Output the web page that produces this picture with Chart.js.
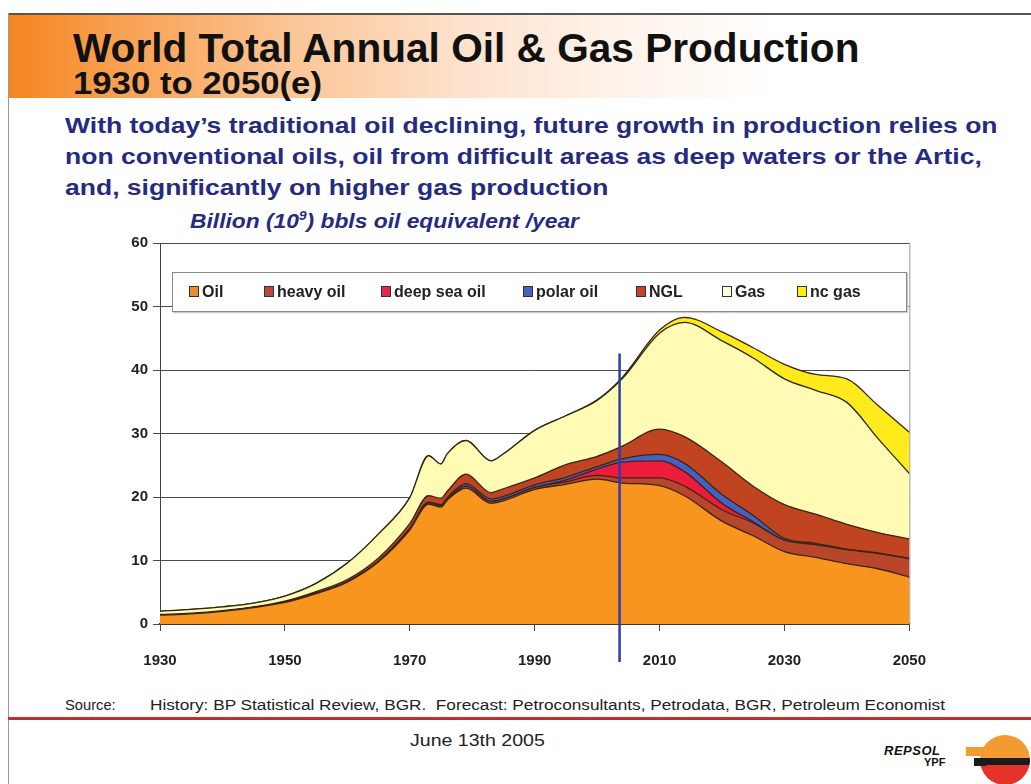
<!DOCTYPE html>
<html>
<head>
<meta charset="utf-8">
<script src="https://cdn.jsdelivr.net/npm/chart.js@4.4.0/dist/chart.umd.min.js"></script>
<style>
  body { margin: 0; width: 1031px; height: 784px; overflow: hidden; background: #fff; position: relative;
         font-family: 'Liberation Sans', Arial, sans-serif; }
  .abs { position: absolute; white-space: nowrap; }
  .wide { transform-origin: 0 0; }
  #frameTop { left: 8px; top: 13px; width: 1023px; height: 2px; background: #555; }
  #frameLeft { left: 8px; top: 13px; width: 1px; height: 771px; background: #999; }
  #band { left: 9px; top: 15px; width: 1022px; height: 83px;
          background: linear-gradient(to right, #f5841f 0%, #f89a45 8%, #fbc697 28%, #fde3cf 45%, #fff3ea 60%, #ffffff 75%); }
  #title { left: 73px; top: 26px; font-size: 40px; font-weight: bold; color: #111; transform: scaleX(1.015); }
  #subtitle { left: 73px; top: 66px; font-size: 31px; font-weight: bold; color: #111; transform: scaleX(1.12); }
  .desc { left: 65px; font-size: 22px; font-weight: bold; color: #262a80; transform: scaleX(1.205); }
  #unit { left: 190px; top: 209px; font-size: 20px; font-weight: bold; font-style: italic; color: #262a80; transform: scaleX(1.14); }
  #unit sup { font-size: 12px; }
  #chartBox { left: 100px; top: 229px; }
  #legend { left: 172px; top: 272px; width: 733px; height: 38px; background: #fff; border: 1px solid #888;
            box-shadow: 1px 1px 1px #ccc; }
  .item { position: absolute; top: 10px; font-family: 'Liberation Sans Narrow', 'Arial Narrow', 'Liberation Sans', Arial, sans-serif;
          font-weight: bold; font-size: 16px; color: #222; }
  .sw { display: inline-block; width: 8px; height: 9px; border: 1px solid #333; margin-right: 3px; vertical-align: 0px; }
  #source { left: 65px; top: 697px; font-size: 14px; color: #222; transform: scaleX(1.05); }
  #sourceText { left: 150px; top: 697px; font-size: 14px; color: #222; transform: scaleX(1.23); }
  #redLine { left: 8px; top: 717px; width: 1023px; height: 2px; background: #d42a2a; box-shadow: 0 1px 0 #9a3a3a; }
  #date { left: 410px; top: 731px; font-size: 17px; color: #222; transform: scaleX(1.15); }
  #repsol { left: 884px; top: 743px; font-size: 13px; font-weight: bold; font-style: italic; color: #111; letter-spacing: 0.5px; }
  #ypf { left: 924px; top: 756px; font-size: 11px; font-weight: bold; color: #111; }
  #logo { left: 980px; top: 735px; width: 50px; height: 50px; border-radius: 50%; overflow: hidden;
          background: linear-gradient(to bottom, #f39a30 0%, #f39a30 46%, #1a1a1a 46%, #1a1a1a 60%, #e5322b 60%, #e5322b 100%); }
  #logoBar1 { left: 966px; top: 747px; width: 18px; height: 9px; background: #f39a30; }
  #logoBar2 { left: 974px; top: 758px; width: 12px; height: 8px; background: #1a1a1a; }
</style>
</head>
<body>
<div class="abs" id="frameTop"></div>
<div class="abs" id="frameLeft"></div>
<div class="abs" id="band"></div>
<div class="abs wide" id="title">World Total Annual Oil &amp; Gas Production</div>
<div class="abs wide" id="subtitle">1930 to 2050(e)</div>
<div class="abs wide desc" style="top:113px">With today’s traditional oil declining, future growth in production relies on</div>
<div class="abs wide desc" style="top:144px">non conventional oils, oil from difficult areas as deep waters or the Artic,</div>
<div class="abs wide desc" style="top:175px">and, significantly on higher gas production</div>
<div class="abs wide" id="unit">Billion (10<sup>9</sup>) bbls oil equivalent /year</div>

<div class="abs" id="chartBox"><canvas id="prodChart" width="847" height="445"></canvas></div>
<div class="abs" id="legend"></div>

<div class="abs wide" id="source">Source:</div>
<div class="abs wide" id="sourceText">History: BP Statistical Review, BGR.&nbsp; Forecast: Petroconsultants, Petrodata, BGR, Petroleum Economist</div>
<div class="abs" id="redLine"></div>
<div class="abs wide" id="date">June 13th 2005</div>
<div class="abs" id="repsol">REPSOL</div>
<div class="abs" id="ypf">YPF</div>
<div class="abs" id="logoBar1"></div>
<div class="abs" id="logo"></div>
<div class="abs" id="logoBar2"></div>

<script>
// Years (x values), history up to 2004, forecast after
const years = [1930, 1935, 1940, 1945, 1950, 1955, 1960, 1965, 1970, 1973, 1975, 1976, 1979, 1983, 1985,
               1990, 1995, 2000, 2004, 2010, 2014, 2020, 2025, 2030, 2035, 2040, 2045, 2050];

// Series, billion bbl oil equivalent per year (stacked)
const oil      = [1.4, 1.6, 2.0, 2.6, 3.4, 4.8, 6.6, 9.8, 14.8, 18.9, 18.4, 19.5, 21.4, 19.0, 19.4,
                  21.2, 22.0, 22.8, 22.2, 21.8, 20.2, 16.2, 13.9, 11.4, 10.5, 9.5, 8.7, 7.4];
const heavyOil = [0, 0, 0, 0, 0.05, 0.05, 0.1, 0.1, 0.2, 0.2, 0.2, 0.2, 0.3, 0.3, 0.3,
                  0.3, 0.4, 0.6, 0.8, 1.2, 1.5, 1.8, 2.0, 1.8, 2.0, 2.2, 2.4, 2.9];
const deepSea  = [0, 0, 0, 0, 0, 0, 0, 0, 0, 0, 0, 0, 0, 0, 0,
                  0, 0.3, 1.0, 2.5, 2.7, 2.3, 1.0, 0.2, 0, 0, 0, 0, 0];
const polarOil = [0, 0, 0, 0, 0, 0, 0, 0, 0, 0.1, 0.2, 0.2, 0.4, 0.4, 0.4,
                  0.4, 0.4, 0.4, 0.5, 1.0, 1.3, 1.4, 1.0, 0.3, 0.2, 0.1, 0.05, 0];
const ngl      = [0.1, 0.1, 0.1, 0.1, 0.15, 0.25, 0.3, 0.5, 0.8, 1.0, 1.0, 1.0, 1.5, 1.0, 1.2,
                  1.1, 2.0, 1.6, 2.0, 4.0, 4.2, 5.1, 4.6, 5.3, 4.6, 3.9, 3.25, 3.1];
const gas      = [0.5, 0.6, 0.6, 0.6, 0.8, 1.3, 2.6, 3.8, 4.1, 6.3, 5.4, 5.9, 5.3, 5.0, 5.5,
                  7.5, 7.7, 8.8, 10.6, 15.1, 18.0, 19.1, 20.2, 19.8, 19.5, 19.2, 14.8, 10.3];
const ncGas    = [0, 0, 0, 0, 0, 0, 0, 0, 0, 0, 0, 0, 0, 0, 0,
                  0, 0, 0.1, 0.2, 0.5, 0.8, 1.4, 1.6, 2.3, 2.5, 3.7, 5.2, 6.5];

const seriesNames = ['Oil', 'heavy oil', 'deep sea oil', 'polar oil', 'NGL', 'Gas', 'nc gas'];
const seriesData = [oil, heavyOil, deepSea, polarOil, ngl, gas, ncGas];
const seriesColors = ['#f7951f', '#b8462a', '#ee1c3c', '#4561c2', '#c0441f', '#fffab4', '#ffea1c'];
const swatchColors = ['#e8902f', '#c0463a', '#e8264a', '#4a62c4', '#c8402a', '#fffbe0', '#fff000'];

// x axis ticks and the "today" marker
const xTicks = [1930, 1950, 1970, 1990, 2010, 2030, 2050];
const markerYear = 2003.6;
const markerTop = 42.6;

// Legend drawn inside the plot, like the original
const legendLeft = [16, 91, 208, 350, 463, 549, 624];
const legendDiv = document.getElementById('legend');
seriesNames.forEach((name, i) => {
    const it = document.createElement('div');
    it.className = 'item';
    it.style.left = legendLeft[i] + 'px';
    it.innerHTML = '<span class="sw" style="background:' + swatchColors[i] + '"></span>' + name;
    legendDiv.appendChild(it);
});

const datasets = seriesNames.map((name, i) => ({
    label: name,
    data: seriesData[i].map((v, j) => ({ x: years[j], y: v })),
    backgroundColor: seriesColors[i],
    borderColor: i === 5 ? '#2a2a10' : '#3a2416',
    borderWidth: 1.3,
    fill: i === 0 ? 'origin' : '-1',
    pointRadius: 0,
    cubicInterpolationMode: 'monotone'
}));

// Blue line for "today" and the right frame of the plot
const markerPlugin = {
    id: 'marker',
    beforeDatasetsDraw(chart) {
        const { ctx, chartArea } = chart;
        ctx.save();
        ctx.strokeStyle = '#9a9a9a';
        ctx.lineWidth = 1;
        ctx.beginPath();
        ctx.moveTo(chartArea.right + 0.5, chartArea.top);
        ctx.lineTo(chartArea.right + 0.5, chartArea.bottom);
        ctx.stroke();
        ctx.restore();
    },
    afterDatasetsDraw(chart) {
        const { ctx, chartArea, scales: { x, y } } = chart;
        const px = x.getPixelForValue(markerYear);
        ctx.save();
        ctx.strokeStyle = '#2f3cae';
        ctx.lineWidth = 2.5;
        ctx.beginPath();
        ctx.moveTo(px, y.getPixelForValue(markerTop));
        ctx.lineTo(px, chartArea.bottom + 38);
        ctx.stroke();
        ctx.restore();
    }
};

const tickFont = { family: "'Liberation Sans Narrow', 'Arial Narrow', 'Liberation Sans', Arial, sans-serif", size: 15, weight: 'bold' };

const ctx = document.getElementById('prodChart').getContext('2d');
const chart = new Chart(ctx, {
    type: 'line',
    data: { datasets },
    plugins: [markerPlugin],
    options: {
        responsive: false,
        animation: false,
        devicePixelRatio: 1,
        layout: { padding: { top: 10, right: 30, left: 0, bottom: 0 } },
        plugins: { legend: { display: false }, tooltip: { enabled: false } },
        scales: {
            x: {
                type: 'linear',
                min: 1930,
                max: 2050,
                afterFit: s => { s.height = 50; },
                afterBuildTicks: s => { s.ticks = xTicks.map(v => ({ value: v })); },
                ticks: { callback: v => String(v), color: '#222', font: tickFont, padding: 21, maxRotation: 0 },
                grid: { drawOnChartArea: false, tickLength: 7, color: '#444' },
                border: { color: '#222', width: 1.5 }
            },
            y: {
                stacked: true,
                min: 0,
                max: 60,
                afterFit: s => { s.width = 60; },
                ticks: { stepSize: 10, color: '#222', font: tickFont, padding: 5 },
                grid: { color: '#4a4a4a', tickLength: 7, lineWidth: 1 },
                border: { color: '#444' }
            }
        }
    }
});
</script>
</body>
</html>
